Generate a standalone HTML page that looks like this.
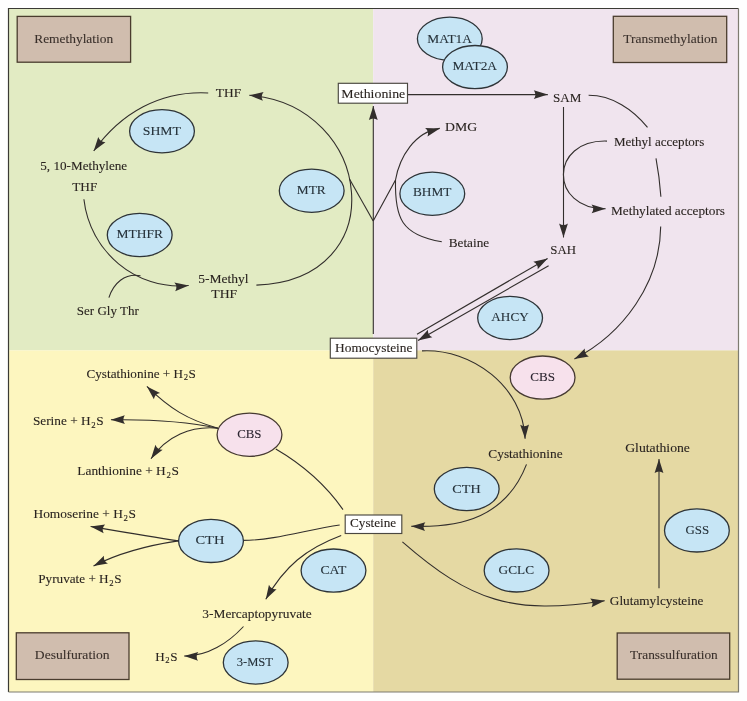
<!DOCTYPE html>
<html><head><meta charset="utf-8"><style>
html,body{margin:0;padding:0;background:#fff;}
svg{display:block;will-change:transform;font-family:"Liberation Serif",serif;}
</style></head><body>
<svg width="747" height="701" viewBox="0 0 747 701">
<rect width="747" height="701" fill="#fefefe"/>
<rect x="8" y="8" width="365.2" height="342.4" fill="#e2ebc3"/>
<rect x="373.2" y="8" width="365.3" height="342.4" fill="#f0e4ee"/>
<rect x="8" y="350.4" width="365.2" height="341.6" fill="#fdf6bf"/>
<rect x="373.2" y="350.4" width="365.3" height="341.6" fill="#e5d9a3"/>
<path d="M8.5,692 L8.5,8.5 L738.5,8.5" fill="none" stroke="#3a3a34" stroke-width="1.2"/>
<path d="M738.5,8.5 L738.5,692 L8.5,692" fill="none" stroke="#7d7b70" stroke-width="1.2"/>
<rect x="17.2" y="16.4" width="113.40" height="45.80" fill="#d0bdae" stroke="#4a3c2e" stroke-width="1.3"/>
<rect x="613.3" y="16.3" width="113.40" height="46.20" fill="#d0bdae" stroke="#4a3c2e" stroke-width="1.3"/>
<rect x="16.3" y="632.8" width="112.70" height="46.70" fill="#d0bdae" stroke="#4a3c2e" stroke-width="1.3"/>
<rect x="617.2" y="633" width="112.50" height="46.20" fill="#d0bdae" stroke="#4a3c2e" stroke-width="1.3"/>
<path d="M208.2,93.0 C160.3,90.5 120.8,113.1 93.7,151.0" fill="none" stroke="#322e2c" stroke-width="1.1"/>
<path d="M93.70,151.00 L98.26,137.05 Q99.98,142.21 105.42,142.17 Z" fill="#322e2c"/>
<path d="M83.9,199.3 C89.7,251.3 135.7,290.6 188.7,285.5" fill="none" stroke="#322e2c" stroke-width="1.1"/>
<path d="M188.70,285.50 L175.19,291.22 Q177.95,286.53 174.34,282.46 Z" fill="#322e2c"/>
<path d="M108.9,297.6 C113.6,283.2 124.6,273.0 140.5,275.7" fill="none" stroke="#322e2c" stroke-width="1.1"/>
<path d="M256.4,285.1 C394.6,280.7 374.1,105.0 249.3,95.3" fill="none" stroke="#322e2c" stroke-width="1.1"/>
<path d="M249.30,95.30 L263.60,92.00 Q260.07,96.14 262.92,100.77 Z" fill="#322e2c"/>
<path d="M349.5,179 L373.2,221" fill="none" stroke="#322e2c" stroke-width="1.1"/>
<path d="M373.2,221 L395.5,180 C399.5,157.0 414.8,131.9 439.8,128.4" fill="none" stroke="#322e2c" stroke-width="1.1"/>
<path d="M439.80,128.40 L427.50,136.41 Q429.40,131.31 425.13,127.94 Z" fill="#322e2c"/>
<path d="M441.8,241.8 C401.1,235.1 394.7,217.6 395.5,180.0" fill="none" stroke="#322e2c" stroke-width="1.1"/>
<path d="M373.3,334 L373.3,106" fill="none" stroke="#322e2c" stroke-width="1.1"/>
<path d="M373.30,106.00 L377.70,120.00 Q373.30,116.80 368.90,120.00 Z" fill="#322e2c"/>
<path d="M407.5,94.6 L547.8,94.6" fill="none" stroke="#322e2c" stroke-width="1.1"/>
<path d="M547.80,94.60 L533.80,99.00 Q537.00,94.60 533.80,90.20 Z" fill="#322e2c"/>
<path d="M563.5,107 L563.5,237.5" fill="none" stroke="#322e2c" stroke-width="1.1"/>
<path d="M563.50,237.50 L559.10,223.50 Q563.50,226.70 567.90,223.50 Z" fill="#322e2c"/>
<path d="M607.0,141.1 C549.0,139.3 549.2,209.3 605.6,208.7" fill="none" stroke="#322e2c" stroke-width="1.1"/>
<path d="M605.60,208.70 L591.65,213.25 Q594.80,208.81 591.55,204.45 Z" fill="#322e2c"/>
<path d="M588.6,95.3 C612.3,95.3 633.2,109.6 647.5,127.4" fill="none" stroke="#322e2c" stroke-width="1.1"/>
<path d="M656,158.4 Q659.5,177 660.9,196.8" fill="none" stroke="#322e2c" stroke-width="1.1"/>
<path d="M660.7,226.5 C660.2,282.7 623.6,333.5 574.4,358.9" fill="none" stroke="#322e2c" stroke-width="1.1"/>
<path d="M574.40,358.90 L584.82,348.57 Q584.00,353.95 588.86,356.39 Z" fill="#322e2c"/>
<path d="M417,334.3 L547.6,258.4" fill="none" stroke="#322e2c" stroke-width="1.1"/>
<path d="M547.60,258.40 L537.71,269.24 Q538.26,263.83 533.28,261.63 Z" fill="#322e2c"/>
<path d="M548.6,265.7 L418,340.4" fill="none" stroke="#322e2c" stroke-width="1.1"/>
<path d="M418.00,340.40 L427.97,329.63 Q427.37,335.04 432.34,337.27 Z" fill="#322e2c"/>
<path d="M422.0,350.9 C472.0,348.3 523.2,387.0 525.1,438.7" fill="none" stroke="#322e2c" stroke-width="1.1"/>
<path d="M525.10,438.70 L520.19,424.87 Q524.70,427.91 528.98,424.55 Z" fill="#322e2c"/>
<path d="M526.5,464.4 C506.4,516.2 462.5,528.1 411.2,526.2" fill="none" stroke="#322e2c" stroke-width="1.1"/>
<path d="M411.20,526.20 L425.35,522.32 Q421.99,526.60 425.03,531.12 Z" fill="#322e2c"/>
<path d="M402.4,541.8 C471.2,601.8 513.2,615.1 604.7,600.7" fill="none" stroke="#322e2c" stroke-width="1.1"/>
<path d="M604.70,600.70 L591.55,607.22 Q594.03,602.38 590.19,598.53 Z" fill="#322e2c"/>
<path d="M659,588.3 L659,459.1" fill="none" stroke="#322e2c" stroke-width="1.1"/>
<path d="M659.00,459.10 L663.40,473.10 Q659.00,469.90 654.60,473.10 Z" fill="#322e2c"/>
<path d="M275.8,449.1 C301.9,464.3 325.5,484.8 343.0,509.6" fill="none" stroke="#322e2c" stroke-width="1.1"/>
<path d="M218.0,428.2 C187.0,419.6 169.8,408.6 146.9,386.4" fill="none" stroke="#322e2c" stroke-width="1.1"/>
<path d="M146.90,386.40 L160.01,392.99 Q154.65,393.92 153.89,399.30 Z" fill="#322e2c"/>
<path d="M218.0,428.2 C182.8,420.8 146.8,419.2 110.9,419.8" fill="none" stroke="#322e2c" stroke-width="1.1"/>
<path d="M110.90,419.80 L124.82,415.17 Q121.70,419.62 124.97,423.97 Z" fill="#322e2c"/>
<path d="M218.0,428.2 C190.7,425.5 166.7,436.3 151.0,458.7" fill="none" stroke="#322e2c" stroke-width="1.1"/>
<path d="M151.00,458.70 L155.43,444.71 Q157.20,449.86 162.64,449.76 Z" fill="#322e2c"/>
<path d="M242.7,540.4 C275.8,540.2 307.2,529.5 339.7,525.0" fill="none" stroke="#322e2c" stroke-width="1.1"/>
<path d="M178.4,540.9 C149.1,536.6 119.8,531.5 90.6,526.5" fill="none" stroke="#322e2c" stroke-width="1.1"/>
<path d="M90.60,526.50 L105.14,524.53 Q101.25,528.32 103.66,533.20 Z" fill="#322e2c"/>
<path d="M178.4,540.9 C149.1,545.2 120.0,552.4 93.5,566.0" fill="none" stroke="#322e2c" stroke-width="1.1"/>
<path d="M93.50,566.00 L103.95,555.69 Q103.11,561.07 107.96,563.52 Z" fill="#322e2c"/>
<path d="M341.2,535.5 C305.7,548.8 284.7,566.3 265.8,599.2" fill="none" stroke="#322e2c" stroke-width="1.1"/>
<path d="M265.80,599.20 L268.96,584.87 Q271.18,589.84 276.59,589.25 Z" fill="#322e2c"/>
<path d="M243.5,626.5 C228.4,642.9 207.3,656.5 184.2,656.0" fill="none" stroke="#322e2c" stroke-width="1.1"/>
<path d="M184.20,656.00 L198.29,651.90 Q195.00,656.23 198.10,660.70 Z" fill="#322e2c"/>
<ellipse cx="162" cy="131.2" rx="32.4" ry="21.6" fill="#c6e5f5" stroke="#2e3438" stroke-width="1.3"/>
<ellipse cx="139.7" cy="235" rx="32.4" ry="21.6" fill="#c6e5f5" stroke="#2e3438" stroke-width="1.3"/>
<ellipse cx="311.7" cy="190.7" rx="32.4" ry="21.6" fill="#c6e5f5" stroke="#2e3438" stroke-width="1.3"/>
<ellipse cx="449.8" cy="38.7" rx="32.4" ry="21.6" fill="#c6e5f5" stroke="#2e3438" stroke-width="1.3"/>
<ellipse cx="475" cy="67.1" rx="32.4" ry="21.6" fill="#c6e5f5" stroke="#2e3438" stroke-width="1.3"/>
<ellipse cx="432.3" cy="193.7" rx="32.4" ry="21.6" fill="#c6e5f5" stroke="#2e3438" stroke-width="1.3"/>
<ellipse cx="510.1" cy="318" rx="32.4" ry="21.6" fill="#c6e5f5" stroke="#2e3438" stroke-width="1.3"/>
<ellipse cx="542.6" cy="377.6" rx="32.4" ry="21.6" fill="#f7e1ec" stroke="#463a32" stroke-width="1.3"/>
<ellipse cx="466.7" cy="489" rx="32.4" ry="21.6" fill="#c6e5f5" stroke="#2e3438" stroke-width="1.3"/>
<ellipse cx="516.6" cy="570.4" rx="32.4" ry="21.6" fill="#c6e5f5" stroke="#2e3438" stroke-width="1.3"/>
<ellipse cx="696.9" cy="530.4" rx="32.4" ry="21.6" fill="#c6e5f5" stroke="#2e3438" stroke-width="1.3"/>
<ellipse cx="249.5" cy="434.8" rx="32.4" ry="21.6" fill="#f7e1ec" stroke="#463a32" stroke-width="1.3"/>
<ellipse cx="211" cy="540.9" rx="32.4" ry="21.6" fill="#c6e5f5" stroke="#2e3438" stroke-width="1.3"/>
<ellipse cx="333.5" cy="570.6" rx="32.4" ry="21.6" fill="#c6e5f5" stroke="#2e3438" stroke-width="1.3"/>
<ellipse cx="255.7" cy="662.5" rx="32.4" ry="21.6" fill="#c6e5f5" stroke="#2e3438" stroke-width="1.3"/>
<rect x="338.3" y="83.3" width="69.20" height="19.90" fill="#ffffff" stroke="#4a4740" stroke-width="1.15"/>
<rect x="330.3" y="338.2" width="86.50" height="20.00" fill="#ffffff" stroke="#4a4740" stroke-width="1.15"/>
<rect x="345.2" y="515" width="56.60" height="18.50" fill="#ffffff" stroke="#4a4740" stroke-width="1.15"/>
<text x="142.78" y="134.8" font-size="13.50" textLength="38.14" lengthAdjust="spacingAndGlyphs" fill="#26323a" stroke="#26323a" stroke-width="0.1">SHMT</text>
<text x="116.60" y="238.4" font-size="13.50" textLength="46.41" lengthAdjust="spacingAndGlyphs" fill="#26323a" stroke="#26323a" stroke-width="0.1">MTHFR</text>
<text x="296.81" y="194.1" font-size="13.50" textLength="28.95" lengthAdjust="spacingAndGlyphs" fill="#26323a" stroke="#26323a" stroke-width="0.1">MTR</text>
<text x="427.31" y="43" font-size="13.50" textLength="44.70" lengthAdjust="spacingAndGlyphs" fill="#26323a" stroke="#26323a" stroke-width="0.1">MAT1A</text>
<text x="452.41" y="70.4" font-size="13.50" textLength="44.60" lengthAdjust="spacingAndGlyphs" fill="#26323a" stroke="#26323a" stroke-width="0.1">MAT2A</text>
<text x="412.91" y="195.7" font-size="13.50" textLength="38.50" lengthAdjust="spacingAndGlyphs" fill="#26323a" stroke="#26323a" stroke-width="0.1">BHMT</text>
<text x="491.32" y="321.3" font-size="13.50" textLength="37.42" lengthAdjust="spacingAndGlyphs" fill="#26323a" stroke="#26323a" stroke-width="0.1">AHCY</text>
<text x="530.23" y="380.7" font-size="13.50" textLength="24.68" lengthAdjust="spacingAndGlyphs" fill="#2c2530" stroke="#2c2530" stroke-width="0.1">CBS</text>
<text x="452.35" y="492.5" font-size="13.50" textLength="28.30" lengthAdjust="spacingAndGlyphs" fill="#26323a" stroke="#26323a" stroke-width="0.1">CTH</text>
<text x="498.61" y="573.6" font-size="13.50" textLength="35.49" lengthAdjust="spacingAndGlyphs" fill="#26323a" stroke="#26323a" stroke-width="0.1">GCLC</text>
<text x="685.44" y="533.5" font-size="13.50" textLength="23.69" lengthAdjust="spacingAndGlyphs" fill="#26323a" stroke="#26323a" stroke-width="0.1">GSS</text>
<text x="237.15" y="438.1" font-size="13.50" textLength="24.36" lengthAdjust="spacingAndGlyphs" fill="#2c2530" stroke="#2c2530" stroke-width="0.1">CBS</text>
<text x="195.43" y="543.7" font-size="13.50" textLength="28.94" lengthAdjust="spacingAndGlyphs" fill="#26323a" stroke="#26323a" stroke-width="0.1">CTH</text>
<text x="320.49" y="573.5" font-size="13.50" textLength="25.83" lengthAdjust="spacingAndGlyphs" fill="#26323a" stroke="#26323a" stroke-width="0.1">CAT</text>
<text x="236.67" y="665.9" font-size="13.50" textLength="36.35" lengthAdjust="spacingAndGlyphs" fill="#26323a" stroke="#26323a" stroke-width="0.1">3-MST</text>
<text x="34.21" y="43" font-size="13.50" textLength="78.97" lengthAdjust="spacingAndGlyphs" fill="#3a302b" stroke="#3a302b" stroke-width="0.1">Remethylation</text>
<text x="623.30" y="42.8" font-size="13.50" textLength="94.26" lengthAdjust="spacingAndGlyphs" fill="#3a302b" stroke="#3a302b" stroke-width="0.1">Transmethylation</text>
<text x="34.89" y="659.4" font-size="13.50" textLength="74.64" lengthAdjust="spacingAndGlyphs" fill="#3a302b" stroke="#3a302b" stroke-width="0.1">Desulfuration</text>
<text x="630.10" y="659.4" font-size="13.50" textLength="87.66" lengthAdjust="spacingAndGlyphs" fill="#3a302b" stroke="#3a302b" stroke-width="0.1">Transsulfuration</text>
<text x="215.80" y="96.8" font-size="13.50" textLength="25.31" lengthAdjust="spacingAndGlyphs" fill="#2a2420" stroke="#2a2420" stroke-width="0.1">THF</text>
<text x="40.23" y="169.8" font-size="13.50" textLength="87.00" lengthAdjust="spacingAndGlyphs" fill="#2a2420" stroke="#2a2420" stroke-width="0.1">5, 10-Methylene</text>
<text x="72.20" y="190.8" font-size="13.50" textLength="25.11" lengthAdjust="spacingAndGlyphs" fill="#2a2420" stroke="#2a2420" stroke-width="0.1">THF</text>
<text x="198.20" y="283" font-size="13.50" textLength="50.46" lengthAdjust="spacingAndGlyphs" fill="#2a2420" stroke="#2a2420" stroke-width="0.1">5-Methyl</text>
<text x="211.30" y="297.8" font-size="13.50" textLength="25.92" lengthAdjust="spacingAndGlyphs" fill="#2a2420" stroke="#2a2420" stroke-width="0.1">THF</text>
<text x="76.83" y="314.6" font-size="13.50" textLength="62.01" lengthAdjust="spacingAndGlyphs" fill="#2a2420" stroke="#2a2420" stroke-width="0.1">Ser Gly Thr</text>
<text x="341.37" y="98.2" font-size="13.50" textLength="63.88" lengthAdjust="spacingAndGlyphs" fill="#2a2420" stroke="#2a2420" stroke-width="0.1">Methionine</text>
<text x="553.03" y="101.5" font-size="13.50" textLength="28.40" lengthAdjust="spacingAndGlyphs" fill="#2a2420" stroke="#2a2420" stroke-width="0.1">SAM</text>
<text x="444.98" y="131.4" font-size="13.50" textLength="32.17" lengthAdjust="spacingAndGlyphs" fill="#2a2420" stroke="#2a2420" stroke-width="0.1">DMG</text>
<text x="448.72" y="246.6" font-size="13.50" textLength="40.41" lengthAdjust="spacingAndGlyphs" fill="#2a2420" stroke="#2a2420" stroke-width="0.1">Betaine</text>
<text x="613.93" y="146.4" font-size="13.50" textLength="90.30" lengthAdjust="spacingAndGlyphs" fill="#2a2420" stroke="#2a2420" stroke-width="0.1">Methyl acceptors</text>
<text x="611.02" y="214.5" font-size="13.50" textLength="114.00" lengthAdjust="spacingAndGlyphs" fill="#2a2420" stroke="#2a2420" stroke-width="0.1">Methylated acceptors</text>
<text x="550.25" y="253.6" font-size="13.50" textLength="25.72" lengthAdjust="spacingAndGlyphs" fill="#2a2420" stroke="#2a2420" stroke-width="0.1">SAH</text>
<text x="335.01" y="351.7" font-size="13.50" textLength="77.48" lengthAdjust="spacingAndGlyphs" fill="#2a2420" stroke="#2a2420" stroke-width="0.1">Homocysteine</text>
<text x="488.31" y="457.5" font-size="13.50" textLength="74.29" lengthAdjust="spacingAndGlyphs" fill="#2a2420" stroke="#2a2420" stroke-width="0.1">Cystathionine</text>
<text x="625.18" y="451.9" font-size="13.50" textLength="64.78" lengthAdjust="spacingAndGlyphs" fill="#2a2420" stroke="#2a2420" stroke-width="0.1">Glutathione</text>
<text x="609.82" y="605.4" font-size="13.50" textLength="93.61" lengthAdjust="spacingAndGlyphs" fill="#2a2420" stroke="#2a2420" stroke-width="0.1">Glutamylcysteine</text>
<text x="350.02" y="526.8" font-size="13.50" textLength="46.22" lengthAdjust="spacingAndGlyphs" fill="#2a2420" stroke="#2a2420" stroke-width="0.1">Cysteine</text>
<text x="202.31" y="618" font-size="13.50" textLength="109.50" lengthAdjust="spacingAndGlyphs" fill="#2a2420" stroke="#2a2420" stroke-width="0.1">3-Mercaptopyruvate</text>
<text x="86.52" y="377.5" font-size="13.50" textLength="109.38" lengthAdjust="spacingAndGlyphs" fill="#2a2420" stroke="#2a2420" stroke-width="0.1">Cystathionine + H<tspan font-size="8.91" dx="0.6" dy="2.6">2</tspan><tspan dx="0.6" dy="-2.6">S</tspan></text>
<text x="32.90" y="425.2" font-size="13.50" textLength="70.68" lengthAdjust="spacingAndGlyphs" fill="#2a2420" stroke="#2a2420" stroke-width="0.1">Serine + H<tspan font-size="8.91" dx="0.6" dy="2.6">2</tspan><tspan dx="0.6" dy="-2.6">S</tspan></text>
<text x="77.30" y="474.9" font-size="13.50" textLength="101.53" lengthAdjust="spacingAndGlyphs" fill="#2a2420" stroke="#2a2420" stroke-width="0.1">Lanthionine + H<tspan font-size="8.91" dx="0.6" dy="2.6">2</tspan><tspan dx="0.6" dy="-2.6">S</tspan></text>
<text x="33.50" y="518" font-size="13.50" textLength="102.48" lengthAdjust="spacingAndGlyphs" fill="#2a2420" stroke="#2a2420" stroke-width="0.1">Homoserine + H<tspan font-size="8.91" dx="0.6" dy="2.6">2</tspan><tspan dx="0.6" dy="-2.6">S</tspan></text>
<text x="38.31" y="583.4" font-size="13.50" textLength="83.18" lengthAdjust="spacingAndGlyphs" fill="#2a2420" stroke="#2a2420" stroke-width="0.1">Pyruvate + H<tspan font-size="8.91" dx="0.6" dy="2.6">2</tspan><tspan dx="0.6" dy="-2.6">S</tspan></text>
<text x="155.18" y="660.7" font-size="13.50" textLength="22.24" lengthAdjust="spacingAndGlyphs" fill="#2a2420" stroke="#2a2420" stroke-width="0.1">H<tspan font-size="8.91" dx="0.6" dy="2.6">2</tspan><tspan dx="0.6" dy="-2.6">S</tspan></text>
</svg>
</body></html>
